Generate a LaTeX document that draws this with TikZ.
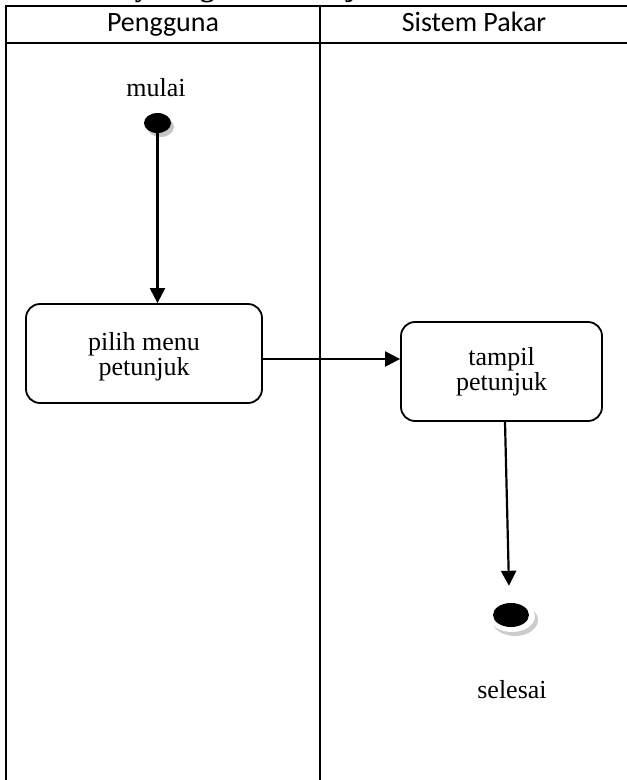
\documentclass[tikz,border=0pt]{standalone}
\usepackage{fontspec}
\setmainfont{Liberation Serif}
\newfontfamily\hdrfont{Carlito}
\usetikzlibrary{arrows.meta,shapes.geometric,shadows}

\begin{document}
\begin{tikzpicture}[x=1pt,y=-1pt,
  grid/.style={line width=2.4pt},
  flow/.style={line width=2.2pt,-{Triangle[length=15pt,width=15pt]}},
  action/.style={draw,line width=1.8pt,rounded corners=14pt,align=center,
    inner sep=0pt,font=\fontsize{26}{25}\selectfont},
  lanehead/.style={font=\hdrfont\fontsize{28}{28}\selectfont,anchor=base,inner sep=0pt},
  caption/.style={font=\fontsize{26}{26}\selectfont,anchor=base,inner sep=0pt},
  dot/.style={ellipse,fill=black,inner sep=0pt},
]
\useasboundingbox (0,0) rectangle (627,780);
\clip (0,0) rectangle (627,780);

% heading above the swimlane table (only its lower edge lies on the page)
\node[font=\bfseries\fontsize{29}{29}\selectfont,anchor=base west,inner sep=0pt]
  (title) at (51,-3.5) {Activity Diagram Petunjuk};

% swimlane table
\draw[grid] (6,800) -- (6,6) -- (700,6);
\draw[grid] (6,43) -- (700,43);
\draw[grid] (320,6) -- (320,800);
\node[lanehead] (laneA) at (163,31) {Pengguna};
\node[lanehead] (laneB) at (474,31) {Sistem Pakar};

% initial node
\node[caption] (lblstart) at (156,96) {mulai};
\node[dot,minimum width=27pt,minimum height=20pt,
  drop shadow={shadow xshift=3pt,shadow yshift=-4pt,fill=gray!45,opacity=1}]
  (start) at (157.5,123) {};

% actions
\node[action,minimum width=236pt,minimum height=99pt,
  label={[font=\fontsize{26}{25}\selectfont,align=center,inner sep=0pt,yshift=-3pt]center:pilih menu\\petunjuk}]
  (pilih) at (144,353.5) {};
\node[action,minimum width=201pt,minimum height=99pt] (tampil) at (501.5,371.5)
  {tampil\\petunjuk};

% final node
\node[ellipse,fill=white,inner sep=0pt,minimum width=46pt,minimum height=32pt,
  drop shadow={shadow xshift=3pt,shadow yshift=-4pt,fill=gray!40,opacity=1}]
  (endring) at (512,616) {};
\node[dot,minimum width=36pt,minimum height=24pt] (end) at (511,615) {};
\node[caption] (lblend) at (512,698) {selesai};

% control flow
\draw[flow] (start.south) -- (start.south |- pilih.north);
\draw[flow] ([yshift=-5.5pt]pilih.east) -- ([yshift=-5.5pt]pilih.east -| tampil.west);
\draw[flow] ([xshift=3.5pt]tampil.south) -- ([xshift=-2pt,yshift=17pt]end.north);
\end{tikzpicture}
\end{document}
